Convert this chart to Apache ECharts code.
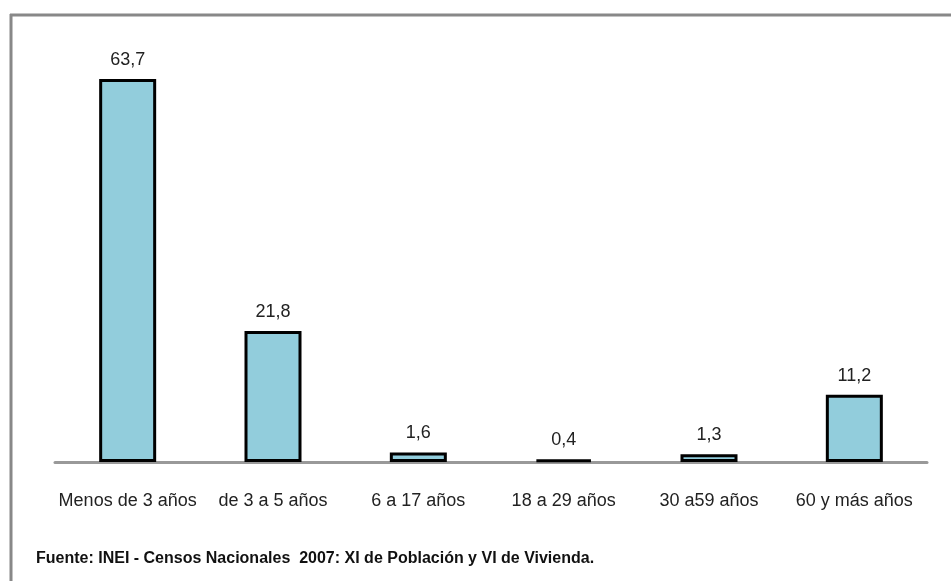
<!DOCTYPE html>
<html><head><meta charset="utf-8">
<script src="https://cdn.jsdelivr.net/npm/echarts@6/dist/echarts.min.js"></script>
<style>html,body{margin:0;padding:0;background:#fff}#c{width:951px;height:581px}</style>
</head><body><div id="c"></div>
<script>
const categories = ['Menos de 3 años','de 3 a 5 años','6 a 17 años','18 a 29 años','30 a59 años','60 y más años'];
const values = [63.7, 21.8, 1.6, 0.4, 1.3, 11.2];
const sourceText = 'Fuente: INEI - Censos Nacionales  2007: XI de Población y VI de Vivienda.';
const FONT = '"Liberation Sans Narrow", "Arial Narrow", "Liberation Sans", sans-serif';
const chart = echarts.init(document.getElementById('c'));
chart.setOption({
  animation: false,
  backgroundColor: '#fff',
  grid: {left: 55, right: 24, top: 41, bottom: 119},
  xAxis: {
    type: 'category', data: categories,
    axisLine: {lineStyle: {color: '#999', width: 3}},
    axisTick: {show: false},
    axisLabel: {interval: 0, color: '#222', fontFamily: FONT, fontSize: 18, margin: 30}
  },
  yAxis: {type: 'value', min: 0, max: 70, show: false, splitLine: {show: false}},
  series: [{
    type: 'bar', data: values, barWidth: 57,
    itemStyle: {color: '#92CDDC', borderColor: '#000', borderWidth: 3},
    label: {show: true, position: 'top', distance: 10, color: '#222', fontFamily: FONT, fontSize: 18,
      formatter: p => String(p.value).replace('.', ',')}
  }],
  graphic: [
    {type: 'line', shape: {x1: 10, y1: 15, x2: 951, y2: 15}, style: {stroke: '#888', lineWidth: 3}},
    {type: 'line', shape: {x1: 11, y1: 14, x2: 11, y2: 581}, style: {stroke: '#888', lineWidth: 3}},
    {type: 'text', left: 36, top: 551, style: {text: sourceText, fontFamily: FONT, fontWeight: 'bold', fontSize: 16, fill: '#111'}}
  ]
});
</script></body></html>
